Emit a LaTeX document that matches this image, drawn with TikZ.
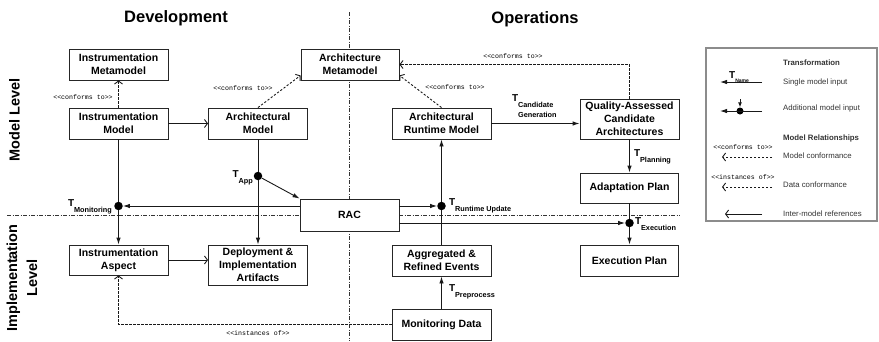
\documentclass[tikz,border=0pt]{standalone}
\usepackage{fontspec}
\setmainfont{Liberation Sans}
\setmonofont{Liberation Mono}
\usetikzlibrary{arrows.meta}

% stereotype text such as <<conforms to>>
\newcommand{\stereotxt}[1]{<\kern0pt<#1>\kern0pt>}
% transformation label: large T with a lowered name
\newcommand{\Tlab}[1]{{\fontsize{10}{10}\selectfont T}\kern-0.2pt\raisebox{-6pt}{\fontsize{7.3}{10}\selectfont #1}}
\newcommand{\Tlabtwo}[2]{{\fontsize{10}{10}\selectfont T}\kern-0.2pt\raisebox{-5.5pt}{\fontsize{7.3}{10}\selectfont\begin{tabular}[t]{@{}l@{}}#1\\#2\end{tabular}}}

\tikzset{
  box/.style={draw=black!85, line width=0.9pt, fill=white, align=center, inner sep=0pt,
    font=\fontsize{10.5}{13}\selectfont\bfseries},
  rel/.style={draw=black!90, line width=0.9pt, -{Straight Barb[length=3pt,width=8pt]}},
  trans/.style={draw=black!90, line width=0.9pt, -{Latex[length=7pt,width=4.5pt]}},
  plain/.style={draw=black!90, line width=0.9pt},
  conf/.style={draw=black!90, line width=0.9pt, dash pattern=on 2.2pt off 1.8pt,
    -{Straight Barb[length=3pt,width=8pt]}},
  divider/.style={draw=black!80, line width=0.6pt, dash pattern=on 4pt off 1.5pt on 1pt off 1.5pt},
  tdot/.style={circle, fill=black, inner sep=0pt, minimum size=8.5pt},
  stereo/.style={font=\fontsize{6.6}{7}\ttfamily, inner sep=0pt},
  head/.style={font=\fontsize{16.5}{18}\selectfont\bfseries, inner sep=0pt},
  level/.style={font=\fontsize{14.5}{20}\selectfont\bfseries, rotate=90, align=center, inner sep=0pt},
  tlab/.style={inner sep=0pt, font=\bfseries},
  legtxt/.style={anchor=west, inner sep=0pt, text=black!80, font=\fontsize{7.8}{9}\selectfont},
  leghead/.style={legtxt, font=\fontsize{7.8}{9}\selectfont\bfseries},
}

\begin{document}
\begin{tikzpicture}[x=1pt, y=-1pt]
\useasboundingbox (0,0) rectangle (879,341);

% section dividers
\draw[divider] (349,12) -- (349,341);
\draw[divider] (7,215) -- (680,215);

% headings
\node[head] (hdev) at (176,18) {Development};
\node[head] (hops) at (535,19) {Operations};
\node[level] (lmodel) at (14.5,120) {Model Level};
\node[level] (limpl) at (22,278) {Implementation\\Level};

% model level
\node[box, minimum width=99pt, minimum height=31pt] (imm) at (118.5,64.5) {Instrumentation\\Metamodel};
\node[box, minimum width=99pt, minimum height=31pt] (im) at (118.5,123.5) {Instrumentation\\Model};
\node[box, minimum width=99pt, minimum height=31pt] (am) at (258,123.5) {Architectural\\Model};
\node[box, minimum width=98pt, minimum height=31pt] (amm) at (350,64.5) {Architecture\\Metamodel};
\node[box, minimum width=99pt, minimum height=31pt] (arm) at (441.5,123.5) {Architectural\\Runtime Model};
\node[box, minimum width=99pt, minimum height=40pt] (qa) at (629.5,119) {Quality-Assessed\\Candidate\\Architectures};
\node[box, minimum width=98pt, minimum height=30pt] (ap) at (629.5,188) {Adaptation Plan};

% RAC between the levels
\node[box, minimum width=99pt, minimum height=32pt] (rac) at (349.5,215) {RAC};

% implementation level
\node[box, minimum width=99pt, minimum height=30pt] (ia) at (118.5,260) {Instrumentation\\Aspect};
\node[box, minimum width=99pt, minimum height=40pt] (dia) at (258,265) {Deployment \&\\Implementation\\Artifacts};
\node[box, minimum width=99pt, minimum height=31pt] (are) at (441.5,260.5) {Aggregated \&\\Refined Events};
\node[box, minimum width=99pt, minimum height=31pt] (md) at (441.5,324.5) {Monitoring Data};
\node[box, minimum width=98pt, minimum height=31pt] (ep) at (629.5,260.5) {Execution Plan};

% transformation points
\node[tdot] (tmon) at (118.5,206) {};
\node[tdot] (tapp) at (258,176) {};
\node[tdot] (trun) at (441.5,206) {};
\node[tdot] (texe) at (629.5,223) {};

% conformance relations
\draw[conf] (im.north) -- (imm.south);
\draw[conf] (am.north) -- ([yshift=5pt]amm.south west);
\draw[conf] (arm.north) -- ([yshift=5pt]amm.south east);
\draw[conf] (qa.north) |- (amm.east);
\draw[conf] (md.west) -| (ia.south);

\node[stereo] (sc1) at (83,97) {\stereotxt{conforms to}};
\node[stereo] (sc2) at (243,88) {\stereotxt{conforms to}};
\node[stereo] (sc3) at (455,87) {\stereotxt{conforms to}};
\node[stereo] (sc4) at (513,56) {\stereotxt{conforms to}};
\node[stereo] (si1) at (258,333) {\stereotxt{instances of}};

% inter-model references
\draw[rel] (im.east) -- (am.west);
\draw[rel] (ia.east) -- (ia.east -| dia.west);

% transformations
\draw[plain] (im.south) -- (tmon);
\draw[trans] (tmon) -- (ia.north);
\draw[trans] ([yshift=9pt]rac.west) -- (tmon);

\draw[plain] (am.south) -- (tapp);
\draw[trans] (tapp) -- (dia.north);
\draw[trans] (tapp) -- (rac.north west);

\draw[trans] ([yshift=9pt]rac.east) -- (trun);
\draw[plain] (are.north) -- (trun);
\draw[trans] (trun) -- (arm.south);
\draw[trans] (md.north) -- (are.south);

\draw[trans] (arm.east) -- (arm.east -| qa.west);
\draw[trans] (qa.south) -- (ap.north);
\draw[plain] (ap.south) -- (texe);
\draw[trans] (texe) -- (ep.north);
\draw[trans] ([yshift=-8pt]rac.east) -- (texe);

% transformation labels
\node[tlab, anchor=base east] (lmon) at (112,206) {\Tlab{Monitoring}};
\node[tlab, anchor=base east] (lapp) at (253,177.6) {\Tlab{App}};
\node[tlab, anchor=base west] (lrun) at (449,205) {\Tlab{Runtime Update}};
\node[tlab, anchor=base west] (lexe) at (635,224.5) {\Tlab{Execution}};
\node[tlab, anchor=base west] (lpla) at (634,156.6) {\Tlab{Planning}};
\node[tlab, anchor=base west] (lpre) at (449,291.6) {\Tlab{Preprocess}};
\node[tlab, anchor=base west] (lcan) at (512,101.6) {\Tlabtwo{Candidate}{Generation}};

% legend
\node[draw=black!45, line width=1.2pt, minimum width=171pt, minimum height=173pt, inner sep=0pt] (legend) at (791.5,134.5) {};
\node[leghead] (lg1) at (783,63) {Transformation};
\node[legtxt] (lg2) at (783,82) {Single model input};
\node[legtxt] (lg3) at (783,108) {Additional model input};
\node[leghead] (lg4) at (783,138) {Model Relationships};
\node[legtxt] (lg5) at (783,156) {Model conformance};
\node[legtxt] (lg6) at (783,185) {Data conformance};
\node[legtxt] (lg7) at (783,214) {Inter-model references};

\coordinate (a1s) at (762,82);  \coordinate (a1e) at (720,82);
\draw[trans] (a1s) -- (a1e);
\node[tlab, anchor=base west] (lname) at (729,78.5) {{\fontsize{10}{10}\selectfont T}\raisebox{-4pt}{\fontsize{5}{6}\selectfont Name}};

\coordinate (a2s) at (762,111); \coordinate (a2e) at (720,111);
\node[tdot, minimum size=7pt] (ldot) at (740,111) {};
\coordinate (a2t) at (740,99);
\draw[trans] (a2s) -- (a2e);
\draw[draw=black!90, line width=0.9pt, -{Latex[length=5pt,width=4pt]}] (a2t) -- (ldot);

\node[stereo] (lc) at (743,147) {\stereotxt{conforms to}};
\coordinate (a3s) at (772,157); \coordinate (a3e) at (722,157);
\draw[conf] (a3s) -- (a3e);

\node[stereo] (li) at (743,177) {\stereotxt{instances of}};
\coordinate (a4s) at (772,187); \coordinate (a4e) at (722,187);
\draw[conf] (a4s) -- (a4e);

\coordinate (a5s) at (762,214); \coordinate (a5e) at (725,214);
\draw[rel] (a5s) -- (a5e);
\end{tikzpicture}
\end{document}
